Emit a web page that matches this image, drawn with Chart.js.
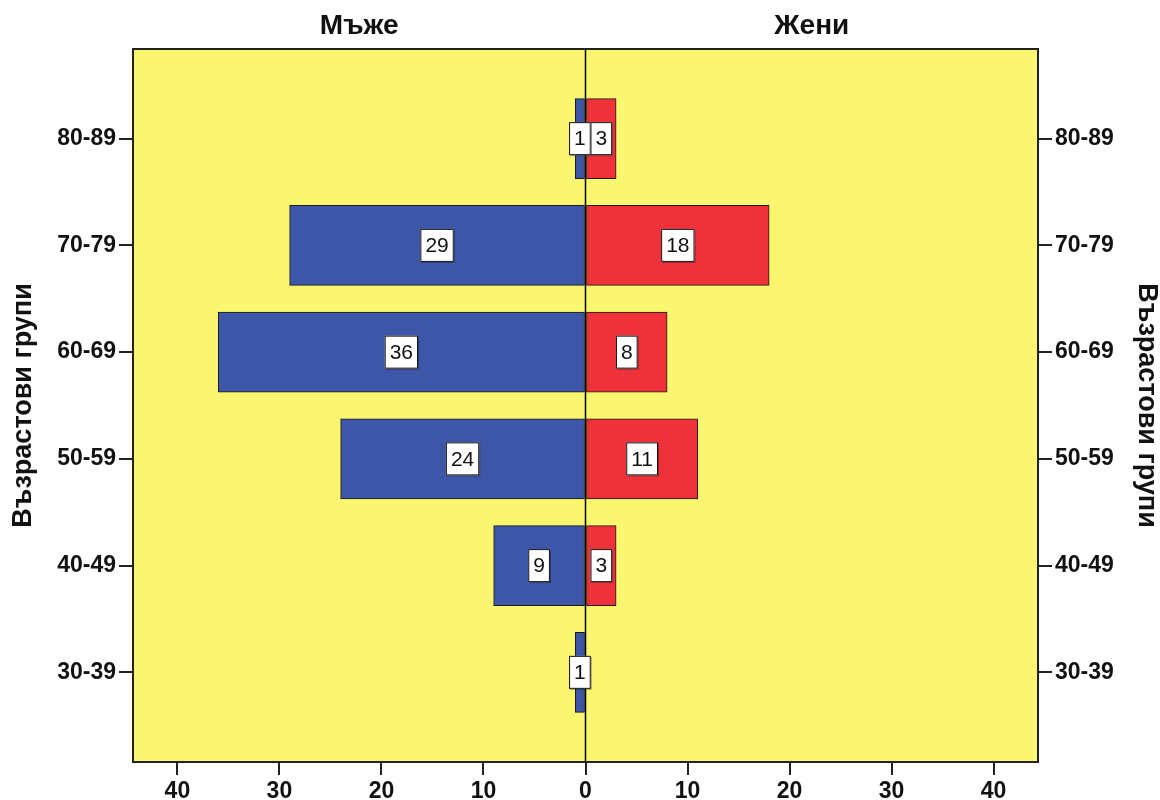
<!DOCTYPE html>
<html>
<head>
<meta charset="utf-8">
<script src="https://cdn.jsdelivr.net/npm/chart.js@4/dist/chart.umd.min.js"></script>
<style>
  body { margin: 0; background: #fff; }
  canvas { display: block; }
</style>
</head>
<body>
<canvas id="pyramid" width="1160" height="800"></canvas>
<script>
// Data (index 0 = bottom row)
const ageGroups = ['30-39', '40-49', '50-59', '60-69', '70-79', '80-89'];
const men = [1, 9, 24, 36, 29, 1];
const women = [0, 3, 11, 8, 18, 3];
const xTicks = [-40, -30, -20, -10, 0, 10, 20, 30, 40];
const sideTitles = ['Мъже', 'Жени'];
const axisTitle = 'Възрастови групи';

const FONT = '"Liberation Sans", Arial, sans-serif';
const tickFont = { family: FONT, size: 23, weight: 'bold' };

// yellow plot background
const plotBg = {
  id: 'plotBg',
  beforeDraw(chart) {
    const { ctx, chartArea: a } = chart;
    ctx.save();
    ctx.fillStyle = '#faf670';
    ctx.fillRect(a.left, a.top, a.right - a.left, a.bottom - a.top);
    ctx.restore();
  }
};

// zero line, frame, value boxes, side titles
const overlay = {
  id: 'overlay',
  afterDatasetsDraw(chart) {
    const { ctx, chartArea: a, scales } = chart;
    const x0 = scales.x.getPixelForValue(0);
    ctx.save();

    ctx.strokeStyle = '#000';
    ctx.lineWidth = 1.5;
    ctx.beginPath();
    ctx.moveTo(x0, a.top);
    ctx.lineTo(x0, a.bottom);
    ctx.stroke();

    ctx.strokeStyle = '#222';
    ctx.lineWidth = 2;
    ctx.strokeRect(a.left, a.top, a.right - a.left, a.bottom - a.top);

    // value labels
    ctx.font = '21px ' + FONT;
    ctx.textAlign = 'center';
    ctx.textBaseline = 'middle';
    chart.data.datasets.forEach((ds, di) => {
      const src = di === 0 ? men : women;
      chart.getDatasetMeta(di).data.forEach((bar, i) => {
        if (!src[i]) return;
        const cx = (bar.x + bar.base) / 2;
        const cy = bar.y;
        const txt = String(src[i]);
        const w = ctx.measureText(txt).width + 10;
        const h = 33;
        ctx.fillStyle = 'rgba(0,0,0,0.35)';
        ctx.fillRect(cx - w / 2 + 1, cy - h / 2 + 1, w, h);
        ctx.fillStyle = '#fff';
        ctx.fillRect(cx - w / 2, cy - h / 2, w, h);
        ctx.strokeStyle = '#111';
        ctx.lineWidth = 1;
        ctx.strokeRect(cx - w / 2 + 0.5, cy - h / 2 + 0.5, w - 1, h - 1);
        ctx.fillStyle = '#111';
        ctx.fillText(txt, cx, cy + 1);
      });
    });

    // side titles above each half
    ctx.font = 'bold 28px ' + FONT;
    ctx.fillStyle = '#111';
    ctx.fillText(sideTitles[0], (a.left + x0) / 2, 26);
    ctx.fillText(sideTitles[1], (x0 + a.right) / 2, 26);
    ctx.restore();
  }
};

const yTicks = s => { s.ticks = ageGroups.map((_, i) => ({ value: i })); };

function ageAxis(position, width, titlePad) {
  return {
    type: 'linear',
    position: position,
    min: -0.84,
    max: 5.84,
    offset: false,
    stacked: true,
    afterBuildTicks: yTicks,
    afterFit: s => { s.width = width; },
    border: { display: false },
    grid: { offset: false, drawOnChartArea: false, color: '#222', lineWidth: 2, tickLength: 14 },
    ticks: {
      autoSkip: false,
      color: '#111',
      font: tickFont,
      padding: 3,
      callback: v => ageGroups[v]
    },
    title: {
      display: true,
      text: axisTitle,
      color: '#111',
      font: { family: FONT, size: 27, weight: 'bold', lineHeight: 1 },
      padding: { top: titlePad, bottom: 0 }
    }
  };
}

new Chart(document.getElementById('pyramid'), {
  type: 'bar',
  data: {
    datasets: [
      {
        label: sideTitles[0],
        data: men.map((v, i) => ({ x: -v, y: i })),
        backgroundColor: '#3d56a7',
        borderColor: '#1a1a1a',
        borderWidth: 1,
        borderSkipped: false,
        barThickness: 80
      },
      {
        label: sideTitles[1],
        data: women.map((v, i) => ({ x: v, y: i })),
        backgroundColor: '#ef3139',
        borderColor: '#1a1a1a',
        borderWidth: 1,
        borderSkipped: false,
        barThickness: 80
      }
    ]
  },
  options: {
    indexAxis: 'y',
    responsive: false,
    animation: false,
    layout: { padding: { top: 49, left: 0, right: 0, bottom: 0 } },
    plugins: { legend: { display: false }, tooltip: { enabled: false } },
    scales: {
      x: {
        type: 'linear',
        min: -44.35,
        max: 44.35,
        stacked: true,
        afterBuildTicks: s => { s.ticks = xTicks.map(v => ({ value: v })); },
        afterFit: s => { s.height = 38; },
        border: { display: false },
        grid: { drawOnChartArea: false, color: '#222', lineWidth: 2, tickLength: 13 },
        ticks: {
          autoSkip: false,
          maxRotation: 0,
          color: '#111',
          font: tickFont,
          padding: 3,
          callback: v => Math.abs(v)
        }
      },
      y: ageAxis('left', 133, 10),
      y2: ageAxis('right', 122, 0)
    }
  },
  plugins: [plotBg, overlay]
});
</script>
</body>
</html>
